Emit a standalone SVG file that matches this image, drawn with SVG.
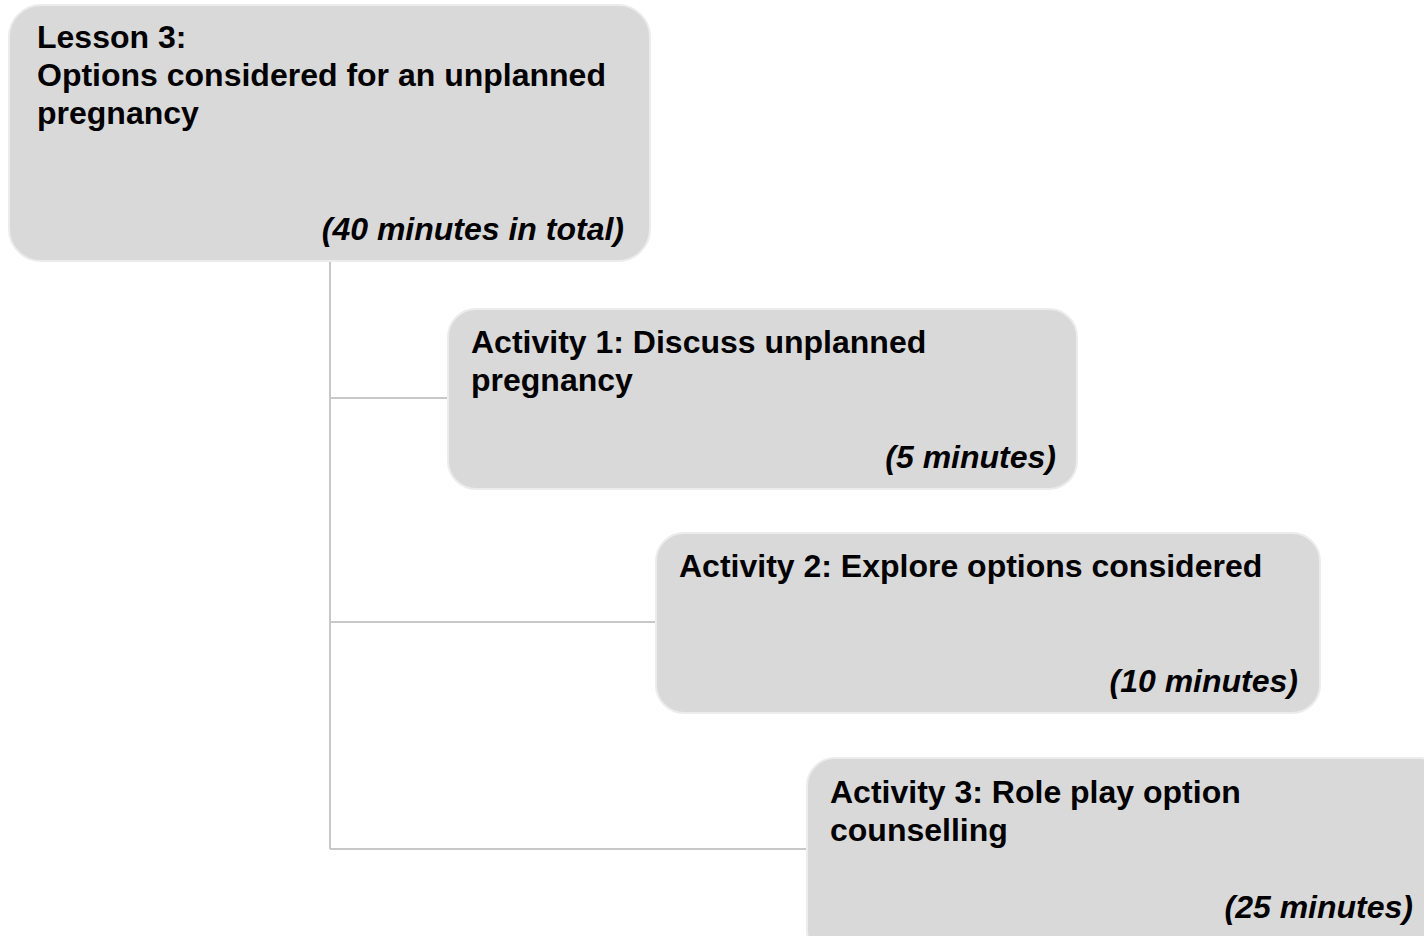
<svg xmlns="http://www.w3.org/2000/svg" width="1424" height="936" viewBox="0 0 1424 936">
<style>
.box{fill:#d9d9d9;stroke:#ececec;stroke-width:2}
.t{font-family:"Liberation Sans",Arial,sans-serif;font-size:32px;font-weight:bold;fill:#000}
.d{font-family:"Liberation Sans",Arial,sans-serif;font-size:32px;font-weight:bold;font-style:italic;fill:#000;text-anchor:end}
.c{stroke:#c8c8c8;stroke-width:2;fill:none}
</style>
<rect width="1424" height="936" fill="#fff"/>
<g id="connectors">
<path class="c" d="M330 261V849M330 398H448M330 622H656M330 849H807"/>
</g>
<g id="lesson3">
<rect class="box" x="9" y="5" width="641" height="256" rx="32"/>
<text class="t" x="37" y="48">Lesson 3:</text>
<text class="t" x="37" y="86">Options considered for an unplanned</text>
<text class="t" x="37" y="124">pregnancy</text>
<text class="d" x="624" y="240">(40 minutes in total)</text>
</g>
<g id="activity1">
<rect class="box" x="448" y="309" width="629" height="180" rx="28"/>
<text class="t" x="471" y="353">Activity 1: Discuss unplanned</text>
<text class="t" x="471" y="391">pregnancy</text>
<text class="d" x="1056" y="468">(5 minutes)</text>
</g>
<g id="activity2">
<rect class="box" x="656" y="533" width="664" height="180" rx="28"/>
<text class="t" x="679" y="577">Activity 2: Explore options considered</text>
<text class="d" x="1298" y="692">(10 minutes)</text>
</g>
<g id="activity3">
<rect class="box" x="807" y="758" width="640" height="200" rx="28"/>
<text class="t" x="830" y="803">Activity 3: Role play option</text>
<text class="t" x="830" y="841">counselling</text>
<text class="d" x="1413" y="918">(25 minutes)</text>
</g>
</svg>
